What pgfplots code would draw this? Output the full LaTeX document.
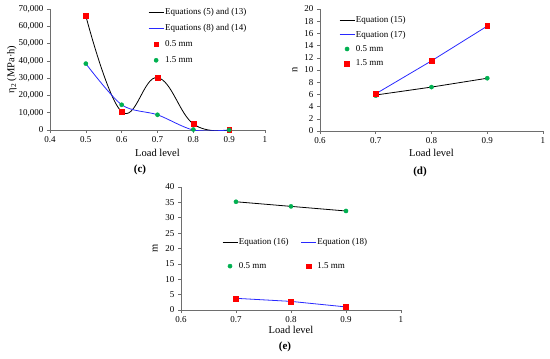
\documentclass[border=0pt]{standalone}
\usepackage{fontspec}
\setmainfont{Liberation Serif}
\usepackage{pgfplots}
\pgfplotsset{compat=1.18}
\definecolor{eqgreen}{RGB}{0,176,80}
\definecolor{eqblue}{RGB}{40,40,255}
\definecolor{axgray}{RGB}{110,110,110}
\pgfplotsset{
  panel/.style={
    scale only axis,
    anchor=south west,
    axis x line*=bottom,
    axis y line*=left,
    tick pos=left,
    tick align=outside,
    major tick length=3pt,
    axis line style={axgray, line width=0.6pt},
    every tick/.style={axgray, line width=0.6pt},
    tick label style={font=\fontsize{9}{10}\selectfont, black},
    /pgf/number format/assume math mode=true,
    label style={font=\fontsize{10.5}{12}\selectfont},
    clip mode=individual,
    legend cell align=left,
    legend image code/.code={\draw[mark repeat=2,mark phase=2,##1] plot coordinates {(0pt,0pt)(7.5pt,0pt)(15pt,0pt)};},
    legend style={draw=none, fill=none, inner sep=0pt, font=\fontsize{9}{10}\selectfont,
      nodes={text height=7pt, text depth=2pt, inner sep=1pt}},
  },
  bl/.style={black, line width=0.8pt, no marks},
  bu/.style={eqblue, line width=0.8pt, no marks},
  rs/.style={only marks, mark=square*, mark size=2.4pt, red, mark options={draw=red, fill=red}},
  gd/.style={only marks, mark=*, mark size=2.1pt, eqgreen, mark options={draw=eqgreen, fill=eqgreen}},
}
\begin{document}
\begin{tikzpicture}
\useasboundingbox (0,0) rectangle (550pt,-359pt);
% (c)
\begin{axis}[panel,
  at={(50pt,-130pt)}, width=215pt, height=121pt,
  xmin=0.4, xmax=1, ymin=0, ymax=70000,
  xtick={0.4,0.5,0.6,0.7,0.8,0.9,1},
  ytick={0,10000,20000,30000,40000,50000,60000,70000},
  scaled y ticks=false,
  yticklabel style={/pgf/number format/.cd, fixed, 1000 sep={,}},
  xlabel={Load level}, ylabel={η\textsubscript{2} (MPa·h)},
  xlabel style={at={(axis description cs:0.5,0)}, anchor=center, yshift=-23pt},
  ylabel style={at={(axis description cs:-0.177,0.5)}, anchor=center},
  legend style={at={(axis description cs:0.456,1.02)}, anchor=north west, row sep=5pt},
]
\addplot[bl, smooth, tension=0.7] coordinates {(0.5,66000) (0.6,10600) (0.7,30300) (0.8,3500) (0.9,0)};
\addplot[bu, smooth] coordinates {(0.5,38400) (0.6,14600) (0.7,8800) (0.8,0) (0.9,0)};
\addplot[rs] coordinates {(0.5,66000) (0.6,10600) (0.7,30300) (0.8,3500) (0.9,0)};
\addplot[gd] coordinates {(0.5,38400) (0.6,14600) (0.7,8800) (0.8,300) (0.9,0)};
\legend{Equations (5) and (13), Equations (8) and (14), 0.5 mm, 1.5 mm}
\end{axis}
% (d)
\begin{axis}[panel,
  at={(320pt,-131pt)}, width=223pt, height=122pt,
  xmin=0.6, xmax=1, ymin=0, ymax=20,
  xtick={0.6,0.7,0.8,0.9,1},
  ytick={0,2,4,6,8,10,12,14,16,18,20},
  xlabel={Load level}, ylabel={n},
  xlabel style={at={(axis description cs:0.5,0)}, anchor=center, yshift=-22pt},
  ylabel style={at={(axis description cs:-0.112,0.5)}, anchor=center},
  legend style={at={(axis description cs:0.085,0.955)}, anchor=north west, row sep=3.4pt},
]
\addplot[bl] coordinates {(0.7,5.9) (0.8,7.2) (0.9,8.65)};
\addplot[bu] coordinates {(0.7,6.1) (0.8,11.5) (0.9,17.2)};
\addplot[gd] coordinates {(0.7,5.8) (0.8,7.2) (0.9,8.65)};
\addplot[rs] coordinates {(0.7,6.1) (0.8,11.5) (0.9,17.2)};
\legend{Equation (15), Equation (17), 0.5 mm, 1.5 mm}
\end{axis}
% (e)
\begin{axis}[panel,
  at={(181pt,-310pt)}, width=220pt, height=123pt,
  xmin=0.6, xmax=1, ymin=0, ymax=40,
  xtick={0.6,0.7,0.8,0.9,1},
  ytick={0,5,10,15,20,25,30,35,40},
  xlabel={Load level}, ylabel={m},
  xlabel style={at={(axis description cs:0.5,0)}, anchor=center, yshift=-20pt},
  ylabel style={at={(axis description cs:-0.118,0.5)}, anchor=center},
  legend columns=2,
  legend style={at={(axis description cs:0.186,0.598)}, anchor=north west, row sep=13pt,
    /tikz/every even column/.append style={column sep=11pt}},
]
\addplot[bl] coordinates {(0.7,35.2) (0.8,33.7) (0.9,32.2)};
\addplot[bu] coordinates {(0.7,3.8) (0.8,2.8) (0.9,1.0)};
\addplot[gd] coordinates {(0.7,35.2) (0.8,33.7) (0.9,32.2)};
\addplot[rs] coordinates {(0.7,3.8) (0.8,2.8) (0.9,1.0)};
\legend{Equation (16), Equation (18), 0.5 mm, 1.5 mm}
\end{axis}
\node[font=\bfseries\fontsize{11}{13}\selectfont] at (140pt,-170pt) {(c)};
\node[font=\bfseries\fontsize{11}{13}\selectfont] at (420pt,-172pt) {(d)};
\node[font=\bfseries\fontsize{11}{13}\selectfont] at (285pt,-347pt) {(e)};
\end{tikzpicture}
\end{document}
